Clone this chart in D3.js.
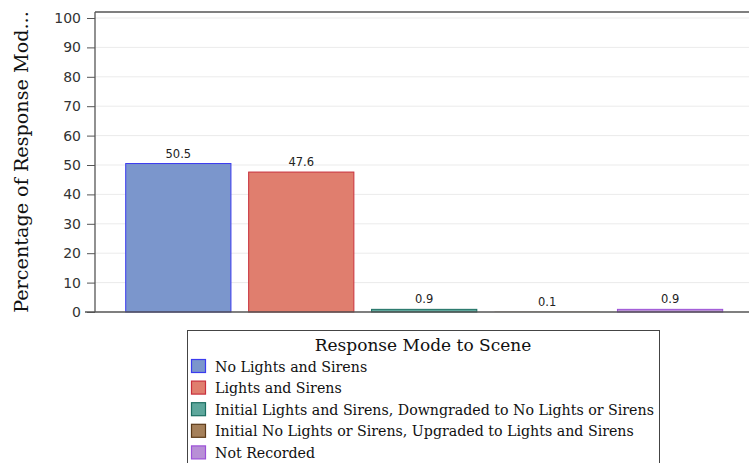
<!DOCTYPE html>
<html><head><meta charset="utf-8">
<script src="https://cdn.jsdelivr.net/npm/d3@7"></script>
<style>body{margin:0;background:#fff}svg{display:block}</style>
</head><body>
<script>
const categories = ["No Lights and Sirens","Lights and Sirens","Initial Lights and Sirens, Downgraded to No Lights or Sirens","Initial No Lights or Sirens, Upgraded to Lights and Sirens","Not Recorded"];
const values = [50.5, 47.6, 0.9, 0.1, 0.9];
const labels = ["50.5","47.6","0.9","0.1","0.9"];
const fills = ["#7b96cc","#e07e6e","#5ea79c","#a5805a","#b88fd6"];
const strokes = ["#3b3bef","#c8303c","#1c6e62","#5c3a18","#9c50d8"];
const yTicks = [0,10,20,30,40,50,60,70,80,90,100];
const legendTitle = "Response Mode to Scene";
const yTitle = "Percentage of Response Mod...";

(function(){
const W=749,H=463;
const svg=d3.select("body").append("svg").attr("width",W).attr("height",H);
const pL=95, pR=760, pT=12, pB=312;
const y=d3.scaleLinear().domain([0,100]).range([pB,18]);
const x=d3.scaleBand().domain(categories).range([125.7,722.7]).paddingInner(0.144).paddingOuter(0);

svg.append("g").selectAll("line").data(yTicks.filter(d=>d>0)).join("line")
  .attr("x1",pL).attr("x2",pR).attr("y1",d=>y(d)).attr("y2",d=>y(d))
  .attr("stroke","#ebebeb").attr("stroke-width",1);

svg.append("g").selectAll("rect").data(values).join("rect")
  .attr("x",(d,i)=>x(categories[i])).attr("width",x.bandwidth())
  .attr("y",d=>y(d)).attr("height",d=>pB-y(d))
  .attr("fill",(d,i)=>fills[i])
  .attr("stroke",(d,i)=>(pB-y(d))<1?"none":strokes[i]).attr("stroke-width",1);

svg.append("g").selectAll("text").data(values).join("text")
  .attr("x",(d,i)=>x(categories[i])+x.bandwidth()/2).attr("y",d=>y(d)-6)
  .attr("text-anchor","middle").attr("font-family","DejaVu Sans, Verdana, sans-serif")
  .attr("font-size",11.5).attr("fill","#222").text((d,i)=>labels[i]);

svg.append("line").attr("x1",pL).attr("x2",pR).attr("y1",pT).attr("y2",pT).attr("stroke","#555").attr("stroke-width",1.3);

const ya=d3.axisLeft(y).tickValues(yTicks).tickSize(8).tickPadding(6);
const gy=svg.append("g").attr("transform",`translate(${pL},0)`).call(ya);
gy.select(".domain").remove();
gy.selectAll(".tick line").attr("stroke","#555");
gy.selectAll(".tick text").attr("font-family","DejaVu Sans, Verdana, sans-serif").attr("font-size",14).attr("fill","#333");
svg.append("line").attr("x1",pL).attr("x2",pL).attr("y1",pT).attr("y2",pB).attr("stroke","#555").attr("stroke-width",1.3);
svg.append("line").attr("x1",pL-10).attr("x2",pR).attr("y1",pB).attr("y2",pB).attr("stroke","#555").attr("stroke-width",1.3);

svg.append("text").attr("transform","translate(28,162) rotate(-90)").attr("text-anchor","middle")
  .attr("font-family","DejaVu Serif, serif").attr("font-size",19.2).attr("fill","#111").text(yTitle);

const lg=svg.append("g");
lg.append("rect").attr("x",187.5).attr("y",330.5).attr("width",472).attr("height",140).attr("fill","#fff").attr("stroke","#444");
lg.append("text").attr("x",423).attr("y",351).attr("text-anchor","middle")
  .attr("font-family","DejaVu Serif, serif").attr("font-size",17).attr("fill","#111").text(legendTitle);
const rows=lg.selectAll("g.r").data(categories).join("g").attr("class","r")
  .attr("transform",(d,i)=>`translate(0,${359+i*21.6})`);
rows.append("rect").attr("x",191.5).attr("y",0.5).attr("width",14).attr("height",13)
  .attr("fill",(d,i)=>fills[i]).attr("stroke",(d,i)=>strokes[i]).attr("stroke-width",1.2);
rows.append("text").attr("x",215).attr("y",12.5).attr("font-family","DejaVu Serif, serif")
  .attr("font-size",14.2).attr("fill","#111").text(d=>d);
})();
</script>
</body></html>
